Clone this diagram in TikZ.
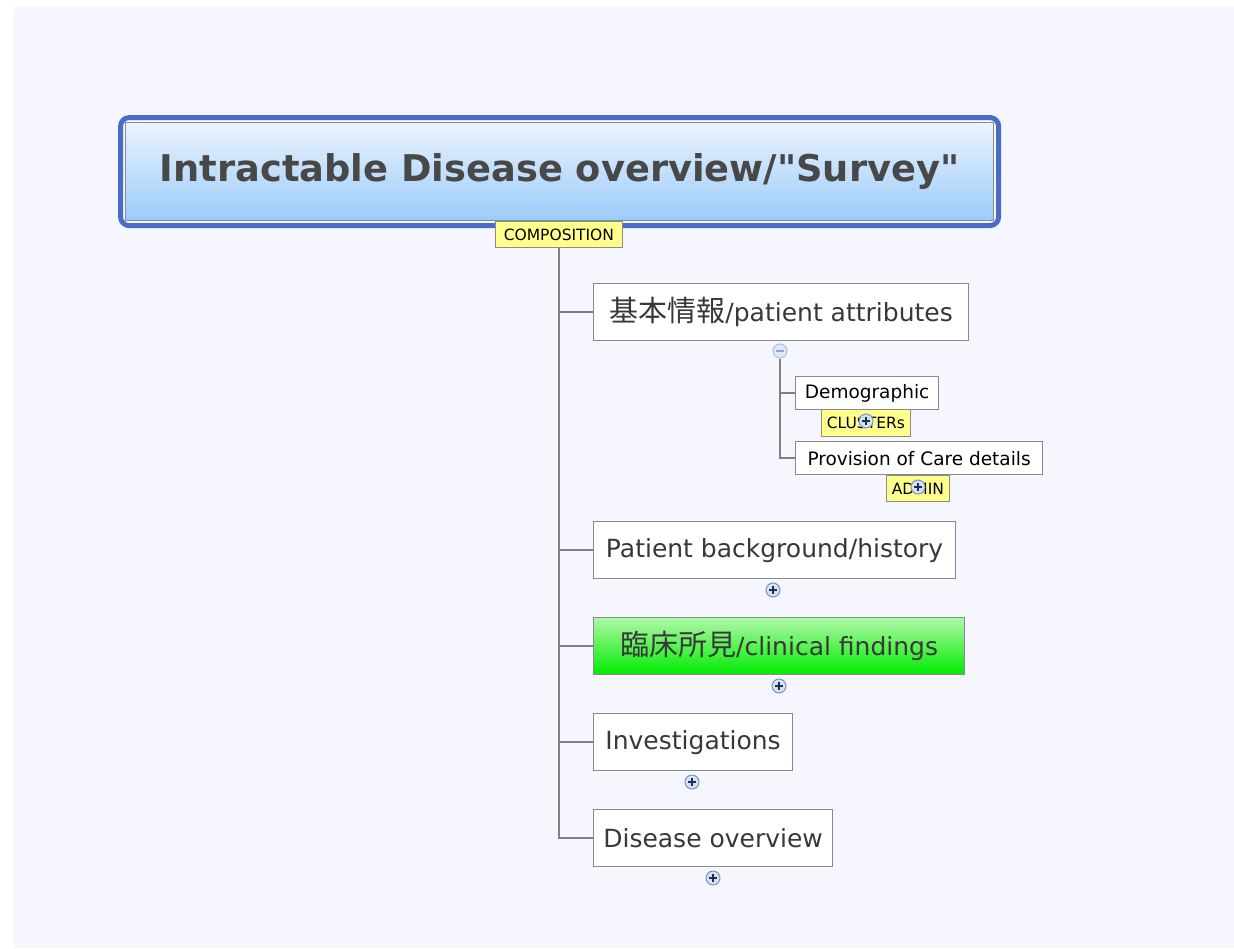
\documentclass[tikz,border=0pt]{standalone}
\usepackage{fontspec}
\setmainfont{DejaVu Sans}
\newfontfamily\cjk[Scale=1.16]{Noto Sans CJK JP}
\definecolor{bgc}{HTML}{F5F6FE}
\definecolor{txt}{HTML}{383838}
\definecolor{titletxt}{HTML}{484848}
\definecolor{boxb}{HTML}{8A8A8A}
\definecolor{linec}{HTML}{808080}
\definecolor{titleb}{HTML}{4A6BC6}
\definecolor{titletop}{HTML}{EAF3FD}
\definecolor{titlebot}{HTML}{9CCBFA}
\definecolor{greentop}{HTML}{B0F8A8}
\definecolor{greenbot}{HTML}{00EC00}
\definecolor{tagc}{HTML}{FFFF8C}
\definecolor{plusb}{HTML}{7A92BE}
\definecolor{plusf}{HTML}{D3E1F5}
\definecolor{plusd}{HTML}{1E2E50}
\definecolor{minusb}{HTML}{A9C2EC}
\definecolor{minusf}{HTML}{DEE9FB}
\definecolor{minusd}{HTML}{8BA5D6}
\begin{document}
\begin{tikzpicture}[x=1pt,y=-1pt,
  childbox/.style={draw=boxb, line width=1.2pt, fill=white, anchor=north west, inner sep=0pt,
    text=txt, font=\fontsize{25}{30}\selectfont, minimum height=57pt},
  subbox/.style={draw=boxb, line width=1.2pt, fill=white, anchor=north west, inner sep=0pt,
    text=black, font=\fontsize{18.5}{23}\selectfont, minimum height=33pt},
  tagbox/.style={draw=boxb, line width=0.8pt, fill=tagc, anchor=north west, inner sep=0pt,
    text=black, font=\fontsize{15.5}{18}\selectfont, minimum height=26pt},
  conn/.style={draw=linec, line width=1.5pt},
  plusc/.style={circle, minimum size=14pt, inner sep=0pt, draw=plusb, fill=plusf, line width=1pt,
    path picture={
      \draw[plusd, line width=1.3pt] ([xshift=-3.6pt]path picture bounding box.center) -- ([xshift=3.6pt]path picture bounding box.center);
      \draw[plusd, line width=1.3pt] ([yshift=-3.6pt]path picture bounding box.center) -- ([yshift=3.6pt]path picture bounding box.center);}},
  minusc/.style={circle, minimum size=14pt, inner sep=0pt, draw=minusb, fill=minusf, line width=1pt,
    path picture={
      \draw[minusd, line width=1.2pt] ([xshift=-3.6pt]path picture bounding box.center) -- ([xshift=3.6pt]path picture bounding box.center);}}
]
% background
\fill[white] (0,0) rectangle (1234,948);
\fill[bgc] (14,6) rectangle (1234,948);

% title
\node[anchor=north west, minimum width=868pt, minimum height=98pt, inner sep=0pt,
      draw=boxb, line width=1.2pt, top color=titletop, bottom color=titlebot,
      text=titletxt, font=\bfseries\fontsize{36.8}{42}\selectfont] (title) at (125,122)
      {Intractable Disease overview/\textquotedbl Survey\textquotedbl};
\draw[titleb, line width=5pt, rounded corners=9pt]
  ([shift={(-4.5,-4.5)}]title.north west) rectangle ([shift={(4.5,4.5)}]title.south east);

% composition tag
\node[tagbox, minimum width=127pt] (comp) at (495,221) {COMPOSITION};

% children
\node[childbox, minimum width=375pt] (c1) at (593,283) {{\cjk 基本情報}/patient attributes};
\node[childbox, minimum width=362pt] (c2) at (593,521) {Patient background/history};
\node[childbox, minimum width=371pt, draw=boxb, top color=greentop, bottom color=greenbot] (c3) at (593,617) {{\cjk 臨床所見}/clinical findings};
\node[childbox, minimum width=199pt] (c4) at (593,713) {Investigations};
\node[childbox, minimum width=239pt] (c5) at (593,809) {Disease overview};

% trunk connectors
\draw[conn] (comp.south) |- (c5.west);
\draw[conn] (comp.south |- c1.west) -- (c1.west);
\draw[conn] (comp.south |- c2.west) -- (c2.west);
\draw[conn] (comp.south |- c3.west) -- (c3.west);
\draw[conn] (comp.south |- c4.west) -- (c4.west);

% sub-branch of c1
\node[minusc] (m1) at (780,351) {};
\node[subbox, minimum width=143pt] (demo) at (795,376) {Demographic};
\node[subbox, minimum width=247pt] (prov) at (795,441) {Provision of Care details};
\draw[conn] (m1.south) |- (prov.west);
\draw[conn] (m1.south |- demo.west) -- (demo.west);

\node[tagbox, minimum width=89pt, minimum height=27pt] (clus) at (821,409) {CLUSTERs};
\node[tagbox, minimum width=63pt] (admin) at (886,475) {ADMIN};
\node[plusc] (pclus) at (866,421) {};
\node[plusc] (padmin) at (918,487) {};

% expand buttons
\node[plusc] (p2) at (773,590) {};
\node[plusc] (p3) at (779,686) {};
\node[plusc] (p4) at (692,782) {};
\node[plusc] (p5) at (713,878) {};
\end{tikzpicture}
\end{document}
